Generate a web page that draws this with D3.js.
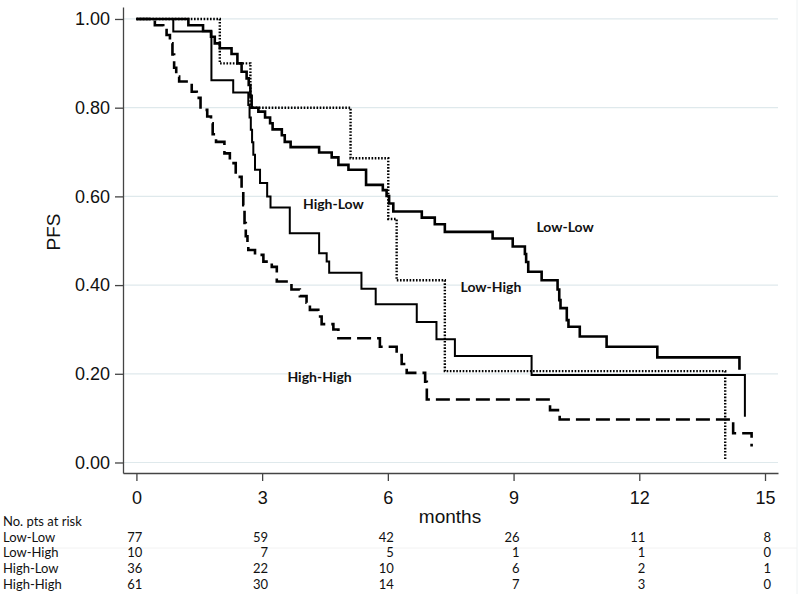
<!DOCTYPE html>
<html>
<head>
<meta charset="utf-8">
<script src="https://cdn.jsdelivr.net/npm/d3@7"></script>
<style>
  html, body { margin: 0; padding: 0; background: #fff; }
  svg { display: block; }
</style>
</head>
<body>
<svg id="chart" width="800" height="594"></svg>
<script>
// ---------- data (time in months, PFS) ----------
const lowLow = [[0,1],[1.24,0.986],[1.59,0.973],[1.78,0.960],[1.87,0.945],[1.99,0.934],[2.27,0.921],[2.41,0.900],[2.51,0.881],[2.63,0.866],[2.68,0.851],[2.72,0.827],[2.75,0.800],[2.91,0.791],[3.07,0.778],[3.19,0.765],[3.25,0.751],[3.47,0.738],[3.54,0.723],[3.68,0.711],[4.36,0.699],[4.66,0.688],[4.82,0.671],[5.06,0.660],[5.48,0.626],[5.88,0.614],[5.97,0.601],[6.03,0.584],[6.13,0.566],[6.81,0.552],[7.12,0.537],[7.36,0.520],[8.50,0.505],[8.98,0.487],[9.27,0.470],[9.30,0.452],[9.35,0.430],[9.67,0.411],[10.05,0.390],[10.09,0.366],[10.12,0.348],[10.27,0.321],[10.31,0.306],[10.58,0.284],[11.22,0.261],[12.43,0.237],[14.39,0.209]];
const lowHigh = [[0,1],[1.99,0.900],[2.72,0.800],[5.11,0.686],[6.01,0.549],[6.21,0.411],[7.36,0.206],[14.05,0.005]];
const highLow = [[0,1],[0.88,0.972],[1.79,0.862],[2.31,0.834],[2.67,0.806],[2.70,0.778],[2.73,0.750],[2.76,0.722],[2.79,0.694],[2.83,0.660],[2.95,0.630],[3.12,0.600],[3.20,0.575],[3.66,0.517],[4.36,0.472],[4.54,0.453],[4.60,0.428],[5.37,0.392],[5.71,0.357],[6.69,0.317],[7.16,0.278],[7.60,0.240],[9.43,0.197],[14.52,0.103]];
const highHigh = [[0,1],[0.44,0.986],[0.64,0.975],[0.72,0.964],[0.80,0.945],[0.86,0.920],[0.90,0.890],[0.95,0.870],[1.02,0.859],[1.32,0.836],[1.44,0.822],[1.53,0.795],[1.69,0.780],[1.78,0.765],[1.82,0.740],[1.90,0.723],[2.10,0.697],[2.23,0.675],[2.37,0.644],[2.51,0.614],[2.55,0.580],[2.58,0.540],[2.61,0.510],[2.65,0.487],[2.67,0.479],[2.83,0.468],[3.03,0.453],[3.23,0.441],[3.35,0.408],[3.70,0.390],[3.90,0.375],[4.06,0.360],[4.14,0.344],[4.34,0.329],[4.42,0.312],[4.70,0.300],[4.82,0.280],[5.81,0.261],[6.21,0.242],[6.33,0.222],[6.45,0.202],[6.89,0.182],[6.93,0.142],[9.87,0.118],[10.10,0.097],[14.24,0.066],[14.68,0.036]];

const groupNames = ["Low-Low", "Low-High", "High-Low", "High-High"];
const xTicks = [0, 3, 6, 9, 12, 15];
const yTicks = [0, 0.2, 0.4, 0.6, 0.8, 1.0];
const atRiskLowLow = [77, 59, 42, 26, 11, 8];
const atRiskLowHigh = [10, 7, 5, 1, 1, 0];
const atRiskHighLow = [36, 22, 10, 6, 2, 1];
const atRiskHighHigh = [61, 30, 14, 7, 3, 0];

// ---------- layout ----------
const svg = d3.select("#chart");
const x = d3.scaleLinear().domain([-0.32, 15.31]).range([123, 778]);
const y = d3.scaleLinear().domain([-0.0237, 1.027]).range([473, 7]);

const axisFont = "'Liberation Sans', Arial, sans-serif";
const labelFont = "Lato, 'Open Sans', sans-serif";

// right border faint line
svg.append("line").attr("x1", 797).attr("x2", 797).attr("y1", 0).attr("y2", 594)
  .attr("stroke", "#eef2f3").attr("stroke-width", 1);
// faint line across table
svg.append("line").attr("x1", 47).attr("x2", 797).attr("y1", 548).attr("y2", 548)
  .attr("stroke", "#f2f2f2").attr("stroke-width", 1);

// gridlines
svg.append("g").selectAll("line").data(yTicks).join("line")
  .attr("x1", x.range()[0]).attr("x2", x.range()[1])
  .attr("y1", d => y(d)).attr("y2", d => y(d))
  .attr("stroke", "#dfe9ec").attr("stroke-width", 1.2);

// axes
const yAxis = svg.append("g").attr("transform", `translate(${x.range()[0]},0)`)
  .call(d3.axisLeft(y).tickValues(yTicks).tickFormat(d3.format(".2f")).tickSize(8).tickSizeOuter(0).tickPadding(5));
const xAxis = svg.append("g").attr("transform", `translate(0,${y.range()[0]})`)
  .call(d3.axisBottom(x).tickValues(xTicks).tickFormat(d3.format("d")).tickSize(8).tickSizeOuter(0).tickPadding(10));
[yAxis, xAxis].forEach(a => {
  a.select(".domain").attr("stroke", "#444").attr("stroke-width", 1.3);
  a.selectAll(".tick line").attr("stroke", "#444").attr("stroke-width", 1.3);
  a.selectAll(".tick text").attr("font-family", axisFont).attr("font-size", 18).attr("fill", "#111");
});

// axis titles
svg.append("text").attr("transform", "translate(53,232) rotate(-90)")
  .attr("text-anchor", "middle").attr("dy", "0.35em")
  .attr("font-family", axisFont).attr("font-size", 19).attr("fill", "#111").text("PFS");
svg.append("text").attr("x", 450).attr("y", 523).attr("text-anchor", "middle")
  .attr("font-family", axisFont).attr("font-size", 19).attr("fill", "#111").text("months");

// curves
const line = d3.line().x(d => x(d[0])).y(d => y(d[1])).curve(d3.curveStepAfter);
const series = [
  { data: lowLow, width: 2.6, dash: null },
  { data: lowHigh, width: 2.4, dash: "1.6,1.6" },
  { data: highLow, width: 2.0, dash: null },
  { data: highHigh, width: 2.6, dash: "14,6" }
];
svg.append("g").selectAll("path").data(series).join("path")
  .attr("d", d => line(d.data))
  .attr("fill", "none").attr("stroke", "#000")
  .attr("stroke-width", d => d.width)
  .attr("stroke-dasharray", d => d.dash)
  .attr("stroke-linejoin", "miter").attr("stroke-linecap", "butt");

// curve labels
const curveLabels = [
  { text: groupNames[2], t: 4.7, s: 0.583 },
  { text: groupNames[0], t: 10.23, s: 0.531 },
  { text: groupNames[1], t: 8.46, s: 0.395 },
  { text: groupNames[3], t: 4.37, s: 0.193 }
];
svg.append("g").selectAll("text").data(curveLabels).join("text")
  .attr("x", d => x(d.t)).attr("y", d => y(d.s))
  .attr("dy", "0.35em").attr("text-anchor", "middle")
  .attr("font-family", labelFont).attr("font-weight", "bold").attr("font-size", 14)
  .attr("fill", "#111").text(d => d.text);

// number at risk table
const table = svg.append("g").attr("font-family", labelFont).attr("font-size", 13).attr("fill", "#111");
table.append("text").attr("x", 3).attr("y", 526).text("No. pts at risk");
const rows = [atRiskLowLow, atRiskLowHigh, atRiskHighLow, atRiskHighHigh];
const rowY = i => 541.5 + i * 15.7;
rows.forEach((vals, i) => {
  table.append("text").attr("x", 3).attr("y", rowY(i)).text(groupNames[i]);
  table.selectAll(null).data(vals).join("text")
    .attr("x", (d, j) => x(xTicks[j]) + 6).attr("y", rowY(i))
    .attr("text-anchor", "end").text(d => d);
});
</script>
</body>
</html>
